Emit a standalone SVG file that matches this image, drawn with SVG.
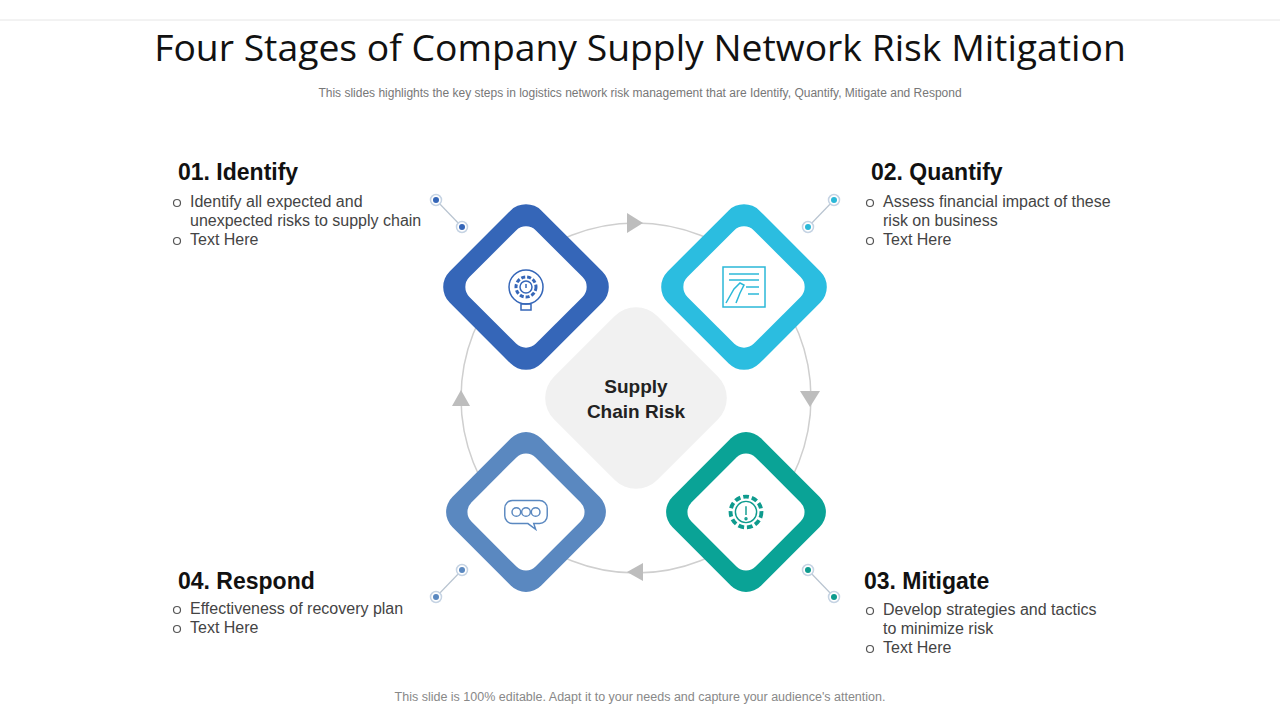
<svg xmlns="http://www.w3.org/2000/svg" width="1280" height="720" viewBox="0 0 1280 720">
<style>
.h{font-family:"Liberation Sans",Arial,sans-serif;font-weight:bold;font-size:23px;fill:#111}
.c{font-family:"Liberation Sans",Arial,sans-serif;font-weight:bold;font-size:19px;fill:#222}
.b{font-family:"Liberation Sans",Arial,sans-serif;font-size:16px;fill:#444}
.bul{fill:none;stroke:#555;stroke-width:1.2}
.pl{stroke:#b8c4d0;stroke-width:1.2}
.ic{fill:none;stroke-width:1.5}
</style>
<defs>
<g id="outer"><rect x="-65" y="-65" width="130" height="130" rx="22" transform="rotate(45)"/></g>
<g id="inner"><rect x="-47" y="-47" width="94" height="94" rx="14" transform="rotate(45)" fill="#fff"/></g>
</defs>
<rect width="1280" height="720" fill="#fff"/>
<line x1="0" y1="20" x2="1280" y2="20" stroke="#e6e6e6"/>
<text x="640" y="61" text-anchor="middle" font-family="Open Sans,Liberation Sans,sans-serif" font-size="37.3" fill="#111">Four Stages of Company Supply Network Risk Mitigation</text>
<text x="640" y="97" text-anchor="middle" font-family="Liberation Sans,Arial,sans-serif" font-size="12" fill="#777">This slides highlights the key steps in logistics network risk management that are Identify,  Quantify, Mitigate and Respond</text>
<g id="connectors">
<circle cx="636" cy="398" r="175" fill="none" stroke="#cfcfcf" stroke-width="1.5"/>
<polygon points="627,213 643,223 627,233" fill="#bdbdbd"/>
<polygon points="800,391 820,391 810,407" fill="#bdbdbd"/>
<polygon points="643,563 643,581 627,572" fill="#bdbdbd"/>
<polygon points="452,406 470,406 461,390" fill="#bdbdbd"/>
<g class="pl">
<line x1="436" y1="200" x2="462" y2="227"/><line x1="834" y1="200" x2="808" y2="227"/>
<line x1="808" y1="570" x2="834" y2="597"/><line x1="462" y1="570" x2="436" y2="597"/>
</g>
<g stroke="#c5d3e3" stroke-width="1.5" fill="#fff">
<circle cx="436" cy="200" r="5.5"/><circle cx="462" cy="227" r="5.5"/>
<circle cx="834" cy="200" r="5.5"/><circle cx="808" cy="227" r="5.5"/>
<circle cx="808" cy="570" r="5.5"/><circle cx="834" cy="597" r="5.5"/>
<circle cx="462" cy="570" r="5.5"/><circle cx="436" cy="597" r="5.5"/>
</g>
<circle cx="436" cy="200" r="3" fill="#3566b8"/><circle cx="462" cy="227" r="3" fill="#3566b8"/>
<circle cx="834" cy="200" r="3" fill="#2bb8d8"/><circle cx="808" cy="227" r="3" fill="#2bb8d8"/>
<circle cx="808" cy="570" r="3" fill="#0e9b8e"/><circle cx="834" cy="597" r="3" fill="#0e9b8e"/>
<circle cx="462" cy="570" r="3" fill="#5a88c0"/><circle cx="436" cy="597" r="3" fill="#5a88c0"/>
</g>
<g id="center">
<rect x="-73" y="-73" width="146" height="146" rx="30" transform="translate(636,398) rotate(45)" fill="#f1f1f1"/>
<text x="636" y="393" text-anchor="middle" class="c">Supply</text>
<text x="636" y="418" text-anchor="middle" class="c">Chain Risk</text>
</g>
<g id="node1" transform="translate(526,287)">
<use href="#outer" fill="#3566b8"/><use href="#inner"/>
<g class="ic" stroke="#3566b8"><circle r="17"/><circle r="10" stroke-dasharray="4 2" stroke-width="3"/><circle r="6"/><rect x="-5" y="17" width="10" height="6"/><line x1="0" y1="-3" x2="0" y2="1"/></g>
</g>
<g id="node2" transform="translate(744,287)">
<use href="#outer" fill="#2bbde0"/><use href="#inner"/>
<g class="ic" stroke="#2bb8d8"><rect x="-21" y="-20" width="42" height="40"/><line x1="-15" y1="-13" x2="15" y2="-13"/><line x1="-15" y1="-7" x2="15" y2="-7"/><line x1="2" y1="0" x2="15" y2="0"/><line x1="4" y1="7" x2="15" y2="7"/><path d="M-18 16 L-10 2 L-4 -4 L0 -2 L-4 6 L-8 16"/></g>
</g>
<g id="node3" transform="translate(746,512) scale(0.965)">
<use href="#outer" fill="#0aa396"/><use href="#inner"/>
<g class="ic" stroke="#0e9b8e"><circle r="16" stroke-dasharray="6 3" stroke-width="4"/><circle r="11"/><line x1="0" y1="-6" x2="0" y2="3"/><circle cy="7" r="1"/></g>
</g>
<g id="node4" transform="translate(526,512) scale(0.965)">
<use href="#outer" fill="#5a88c0"/><use href="#inner"/>
<g class="ic" stroke="#5a88c0"><path d="M-14 -12 H14 A8 8 0 0 1 22 -4 V4 A8 8 0 0 1 14 12 H8 L10 18 L2 12 H-14 A8 8 0 0 1 -22 4 V-4 A8 8 0 0 1 -14 -12 Z"/><circle cx="-10" r="4.5"/><circle r="4.5"/><circle cx="10" r="4.5"/></g>
</g>
<g id="text1">
<text x="178" y="180" class="h">01. Identify</text>
<circle cx="177" cy="203" r="3.5" class="bul"/><text x="190" y="207" class="b">Identify  all expected and</text>
<text x="190" y="226" class="b">unexpected  risks to supply chain</text>
<circle cx="177" cy="241" r="3.5" class="bul"/><text x="190" y="245" class="b">Text  Here</text>
</g>
<g id="text2">
<text x="871" y="180" class="h">02. Quantify</text>
<circle cx="870" cy="203" r="3.5" class="bul"/><text x="883" y="207" class="b">Assess financial impact of these</text>
<text x="883" y="226" class="b">risk on business</text>
<circle cx="870" cy="241" r="3.5" class="bul"/><text x="883" y="245" class="b">Text  Here</text>
</g>
<g id="text3">
<text x="864" y="589" class="h">03. Mitigate</text>
<circle cx="870" cy="611" r="3.5" class="bul"/><text x="883" y="615" class="b">Develop strategies and tactics</text>
<text x="883" y="634" class="b">to minimize risk</text>
<circle cx="870" cy="649" r="3.5" class="bul"/><text x="883" y="653" class="b">Text  Here</text>
</g>
<g id="text4">
<text x="178" y="589" class="h">04. Respond</text>
<circle cx="177" cy="610" r="3.5" class="bul"/><text x="190" y="614" class="b">Effectiveness of recovery plan</text>
<circle cx="177" cy="629" r="3.5" class="bul"/><text x="190" y="633" class="b">Text  Here</text>
</g>
<text x="640" y="701" text-anchor="middle" font-family="Liberation Sans,Arial,sans-serif" font-size="12.5" fill="#888">This slide is 100% editable. Adapt it to your needs and capture your audience's attention.</text>
</svg>
